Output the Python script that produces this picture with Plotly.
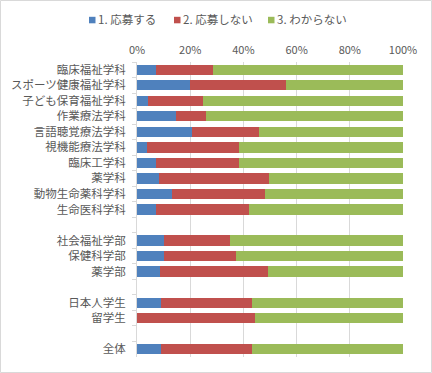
import plotly.graph_objects as go

categories = ["臨床福祉学科", "スポーツ健康福祉学科", "子ども保育福祉学科", "作業療法学科",
              "言語聴覚療法学科", "視機能療法学科", "臨床工学科", "薬学科", "動物生命薬科学科",
              "生命医科学科", " ", "社会福祉学部", "保健科学部", "薬学部", "  ",
              "日本人学生", "留学生", "   ", "全体"]
apply_yes = [7.2, 20.0, 4.1, 14.6, 20.7, 3.9, 7.0, 8.4, 13.0, 7.0, None,
             10.0, 10.2, 8.7, None, 9.2, 0.0, None, 9.2]
apply_no = [21.4, 36.0, 20.8, 11.4, 25.2, 34.5, 31.4, 41.2, 35.1, 35.1, None,
            25.0, 27.0, 40.5, None, 34.0, 44.4, None, 34.0]
unknown = [71.4, 44.0, 75.1, 74.0, 54.1, 61.6, 61.6, 50.4, 51.9, 57.9, None,
           65.0, 62.8, 50.8, None, 56.8, 55.6, None, 56.8]
series_names = ["1. 応募する", "2. 応募しない", "3. わからない"]
colors = ["#4F81BD", "#C0504D", "#9BBB59"]
x_ticks = [0, 20, 40, 60, 80, 100]
x_tick_labels = ["0%", "20%", "40%", "60%", "80%", "100%"]

font = "Noto Sans CJK JP"
L, R, T, B = 137, 29, 62, 16
W, H = 432, 373
PW, PH = W - L - R, H - T - B


def px_x(px):
    return (px - L) / PW


def px_y(py):
    return 1 - (py - T) / PH


fig = go.Figure()
for name, vals, c in zip(series_names, [apply_yes, apply_no, unknown], colors):
    fig.add_trace(go.Bar(y=categories, x=vals, name=name, orientation="h",
                         marker=dict(color=c, line=dict(width=0)), showlegend=False))

# legend drawn as small squares + labels (Excel style)
legend_sq_x = [89, 174, 268]
shapes = [dict(type="rect", xref="paper", yref="paper",
               x0=px_x(0.5), x1=px_x(W - 0.5), y0=px_y(H - 0.5), y1=px_y(0.5),
               line=dict(color="#D9D9D9", width=1), fillcolor="rgba(0,0,0,0)",
               layer="below")]
annotations = []
for sx, name, c in zip(legend_sq_x, series_names, colors):
    shapes.append(dict(type="rect", xref="paper", yref="paper",
                       x0=px_x(sx), x1=px_x(sx + 6.5), y0=px_y(23.3), y1=px_y(16.8),
                       line=dict(width=0), fillcolor=c))
    annotations.append(dict(xref="paper", yref="paper", x=px_x(sx + 6.5),
                            y=px_y(18.8), xanchor="left", yanchor="middle",
                            text=name, showarrow=False,
                            font=dict(size=11.5, color="#595959", family=font)))

fig.update_layout(
    width=W, height=H,
    barmode="stack", bargap=0.34,
    margin=dict(l=L, r=R, t=T, b=B, autoexpand=False),
    paper_bgcolor="white", plot_bgcolor="white",
    font=dict(family=font, size=12, color="#595959"),
    showlegend=False,
    xaxis=dict(side="top", range=[0, 100], tickvals=x_ticks, ticktext=x_tick_labels,
               showgrid=True, gridcolor="#D9D9D9", gridwidth=1, zeroline=False,
               showline=False, ticks="", ticklabelstandoff=5, automargin=False,
               tickfont=dict(size=11, color="#595959"), fixedrange=True),
    yaxis=dict(type="category", categoryorder="array", categoryarray=categories,
               autorange="reversed", showline=True, linecolor="#D9D9D9",
               ticks="outside", tickson="boundaries", ticklen=4, tickcolor="#D9D9D9",
               automargin=False, ticklabelstandoff=8,
               tickfont=dict(size=11.5, color="#595959"), showgrid=False),
    shapes=shapes,
    annotations=annotations,
)
fig.write_html("out.html", config={"displayModeBar": False},
               post_script="document.body.style.margin='0';document.body.style.overflow='hidden';")
